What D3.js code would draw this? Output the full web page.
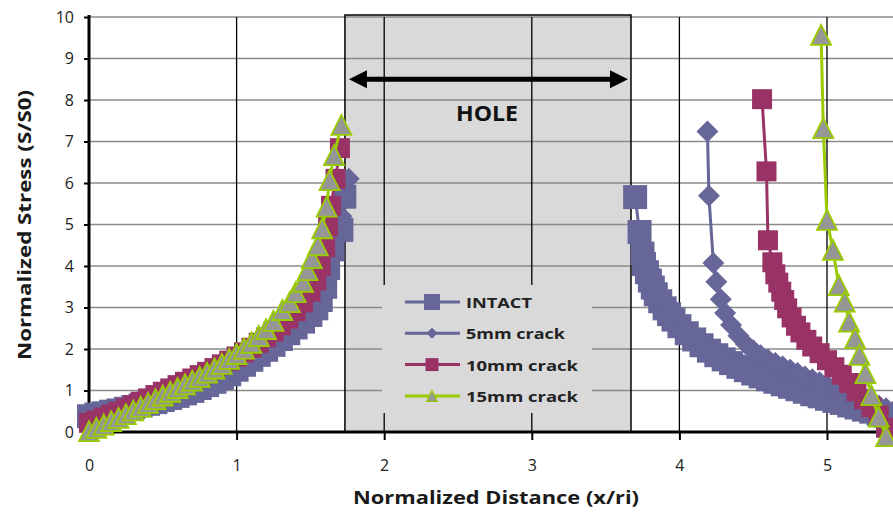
<!DOCTYPE html>
<html>
<head>
<meta charset="utf-8">
<script src="https://cdn.jsdelivr.net/npm/d3@7/dist/d3.min.js"></script>
<style>
  body { margin: 0; background: #fff; }
  svg { display: block; font-family: "Open Sans", "DejaVu Sans", sans-serif; }
</style>
</head>
<body>
<svg id="chart" width="893" height="512"></svg>
<script>
// [x/ri, S/S0], left of the hole and right of the hole
const intactLeft = [[0.00,0.38],[0.05,0.42],[0.10,0.45],[0.15,0.49],[0.20,0.52],[0.25,0.56],[0.30,0.60],[0.35,0.64],[0.40,0.68],[0.45,0.72],[0.50,0.77],[0.55,0.82],[0.60,0.87],[0.65,0.93],[0.70,0.99],[0.75,1.06],[0.80,1.13],[0.85,1.21],[0.90,1.30],[0.95,1.39],[1.00,1.50],[1.05,1.62],[1.10,1.74],[1.15,1.86],[1.20,1.98],[1.25,2.10],[1.30,2.24],[1.35,2.38],[1.40,2.52],[1.45,2.66],[1.50,2.82],[1.54,2.98],[1.57,3.18],[1.60,3.50],[1.62,3.95],[1.65,4.40],[1.71,4.87],[1.73,5.67]];
const intactRight = [[3.70,5.66],[3.73,4.82],[3.75,4.30],[3.76,4.05],[3.78,3.85],[3.80,3.65],[3.82,3.48],[3.84,3.32],[3.87,3.15],[3.90,2.98],[3.93,2.84],[3.96,2.71],[4.00,2.55],[4.05,2.38],[4.10,2.23],[4.15,2.09],[4.20,1.96],[4.25,1.85],[4.30,1.75],[4.35,1.66],[4.40,1.57],[4.45,1.49],[4.50,1.41],[4.55,1.34],[4.60,1.27],[4.65,1.21],[4.70,1.15],[4.75,1.09],[4.80,1.03],[4.85,0.97],[4.90,0.91],[4.95,0.86],[5.00,0.80],[5.05,0.75],[5.10,0.70],[5.15,0.64],[5.20,0.59],[5.25,0.54],[5.30,0.49],[5.35,0.44],[5.40,0.39],[5.45,0.34]];

const crack5Left = [[0.00,0.30],[0.05,0.36],[0.10,0.42],[0.15,0.47],[0.20,0.53],[0.25,0.58],[0.30,0.64],[0.35,0.69],[0.40,0.75],[0.45,0.81],[0.50,0.87],[0.55,0.93],[0.60,0.99],[0.65,1.05],[0.70,1.12],[0.75,1.19],[0.80,1.26],[0.85,1.34],[0.90,1.42],[0.95,1.51],[1.00,1.60],[1.05,1.70],[1.10,1.80],[1.15,1.91],[1.20,2.03],[1.25,2.16],[1.30,2.30],[1.35,2.45],[1.40,2.61],[1.45,2.79],[1.50,3.00],[1.54,3.25],[1.58,3.60],[1.61,3.90],[1.64,4.25],[1.68,4.70],[1.71,5.20],[1.73,5.65],[1.76,6.10]];
const crack5Right = [[4.19,7.24],[4.20,5.69],[4.23,4.07],[4.25,3.62],[4.28,3.20],[4.31,2.87],[4.35,2.58],[4.40,2.32],[4.45,2.12],[4.50,1.97],[4.55,1.85],[4.60,1.75],[4.65,1.66],[4.70,1.58],[4.75,1.50],[4.80,1.42],[4.85,1.34],[4.90,1.27],[4.95,1.20],[5.00,1.13],[5.05,1.06],[5.10,0.99],[5.15,0.92],[5.20,0.85],[5.25,0.78],[5.30,0.71],[5.35,0.64],[5.40,0.57],[5.45,0.50]];

const crack10Left = [[0.00,0.22],[0.05,0.28],[0.10,0.35],[0.15,0.42],[0.20,0.49],[0.25,0.57],[0.30,0.65],[0.35,0.73],[0.40,0.81],[0.45,0.89],[0.50,0.97],[0.55,1.05],[0.60,1.13],[0.65,1.21],[0.70,1.29],[0.75,1.37],[0.80,1.45],[0.85,1.54],[0.90,1.63],[0.95,1.72],[1.00,1.82],[1.05,1.92],[1.10,2.03],[1.15,2.15],[1.20,2.28],[1.25,2.42],[1.30,2.57],[1.35,2.73],[1.40,2.91],[1.45,3.12],[1.50,3.38],[1.54,3.65],[1.57,4.00],[1.60,4.45],[1.62,4.95],[1.64,5.45],[1.67,6.10],[1.70,6.84]];
const crack10Right = [[4.56,8.02],[4.59,6.28],[4.60,4.62],[4.63,4.09],[4.65,3.80],[4.67,3.60],[4.69,3.38],[4.71,3.18],[4.73,2.98],[4.76,2.76],[4.79,2.56],[4.82,2.40],[4.86,2.22],[4.90,2.06],[4.95,1.90],[5.00,1.73],[5.05,1.56],[5.10,1.38],[5.15,1.18],[5.20,0.98],[5.25,0.79],[5.30,0.60],[5.35,0.40],[5.40,0.10]];

const crack15Left = [[0.00,0.02],[0.05,0.10],[0.10,0.18],[0.15,0.26],[0.20,0.34],[0.25,0.43],[0.30,0.52],[0.35,0.61],[0.40,0.70],[0.45,0.79],[0.50,0.88],[0.55,0.97],[0.60,1.06],[0.65,1.15],[0.70,1.24],[0.75,1.33],[0.80,1.43],[0.85,1.53],[0.90,1.64],[0.95,1.76],[1.00,1.88],[1.05,2.01],[1.10,2.15],[1.15,2.31],[1.20,2.48],[1.25,2.68],[1.31,2.94],[1.36,3.13],[1.40,3.37],[1.45,3.62],[1.48,3.90],[1.51,4.19],[1.55,4.50],[1.58,4.91],[1.61,5.43],[1.63,6.07],[1.66,6.67],[1.71,7.40]];
const crack15Right = [[4.96,9.57],[4.975,7.32],[5.00,5.11],[5.04,4.39],[5.08,3.54],[5.12,3.14],[5.15,2.66],[5.19,2.26],[5.22,1.86],[5.26,1.42],[5.30,0.89],[5.35,0.37],[5.40,-0.10]];

const seriesNames = ["INTACT", "5mm crack", "10mm crack", "15mm crack"];
const xTicks = [0, 1, 2, 3, 4, 5];
const yTicks = [0, 1, 2, 3, 4, 5, 6, 7, 8, 9, 10];
const holeEdges = [1.734, 3.672];

const series = [
  { name: seriesNames[0], left: intactLeft, right: intactRight, color: "#666699", marker: "square", size: 24, legSize: 16, fill: "#666699" },
  { name: seriesNames[1], left: crack5Left, right: crack5Right, color: "#666699", marker: "diamond", size: 22, legSize: 11, fill: "#666699" },
  { name: seriesNames[2], left: crack10Left, right: crack10Right, color: "#993366", marker: "square", size: 20, legSize: 13, fill: "#993366" },
  { name: seriesNames[3], left: crack15Left, right: crack15Right, color: "#99cc00", marker: "triangle", size: 20, legSize: 11, fill: "#969696" },
];

const W = 893, H = 512;
const svg = d3.select("#chart");

const x = d3.scaleLinear().domain([0, 5]).range([89, 827]);
const y = d3.scaleLinear().domain([0, 10]).range([432, 17]);

function markerPath(type, s) {
  const h = s / 2;
  if (type === "diamond") return `M0,${-h}L${h},0L0,${h}L${-h},0Z`;
  if (type === "triangle") return `M0,${-h}L${h},${h}L${-h},${h}Z`;
  return `M${-h},${-h}H${h}V${h}H${-h}Z`;
}

// hole background
svg.append("rect")
  .attr("x", x(holeEdges[0]))
  .attr("y", 15)
  .attr("width", x(holeEdges[1]) - x(holeEdges[0]))
  .attr("height", y(0) - 15)
  .attr("fill", "#d9d9d9");

// gridlines
svg.append("g")
  .selectAll("line")
  .data(yTicks.slice(1))
  .join("line")
  .attr("x1", x(0)).attr("x2", W)
  .attr("y1", (d) => y(d)).attr("y2", (d) => y(d))
  .attr("stroke", "#8a8a8a")
  .attr("stroke-width", 1.6);

svg.append("g")
  .selectAll("line")
  .data(xTicks.slice(1))
  .join("line")
  .attr("x1", (d) => x(d)).attr("x2", (d) => x(d))
  .attr("y1", y(10)).attr("y2", y(0))
  .attr("stroke", "#000")
  .attr("stroke-width", 1.3);

// hole border
svg.append("rect")
  .attr("x", x(holeEdges[0]))
  .attr("y", 15)
  .attr("width", x(holeEdges[1]) - x(holeEdges[0]))
  .attr("height", y(0) - 15)
  .attr("fill", "none")
  .attr("stroke", "#000")
  .attr("stroke-width", 1.5);

// axes
const yAxis = svg.append("g")
  .attr("transform", `translate(${x(0)},0)`)
  .call(d3.axisLeft(y).tickValues(yTicks).tickSize(5).tickSizeOuter(0).tickPadding(10));
yAxis.select(".domain").attr("stroke-width", 3).attr("d", `M0,15V${y(0)}`);
yAxis.selectAll(".tick line").attr("stroke-width", 2);
yAxis.selectAll("text").attr("font-size", 16).attr("fill", "#222").attr("font-family", "Open Sans, sans-serif");

const xAxis = svg.append("g")
  .attr("transform", `translate(0,${y(0)})`)
  .call(d3.axisBottom(x).tickValues(xTicks).tickSize(8).tickSizeOuter(0).tickPadding(20).tickFormat(d3.format("d")));
xAxis.select(".domain").attr("stroke-width", 3).attr("d", `M${x(0)},0H${W}`);
xAxis.selectAll(".tick line").attr("stroke-width", 2);
xAxis.selectAll("text").attr("font-size", 16).attr("fill", "#222").attr("font-family", "Open Sans, sans-serif");

// series
const line = d3.line()
  .defined((d) => d !== null)
  .x((d) => x(d[0]))
  .y((d) => y(d[1]));

series.forEach((s) => {
  const pts = s.left.concat([null], s.right);
  const g = svg.append("g");
  g.append("path")
    .datum(pts)
    .attr("d", line)
    .attr("fill", "none")
    .attr("stroke", s.color)
    .attr("stroke-width", 3);
  g.selectAll("path.mk")
    .data(s.left.concat(s.right))
    .join("path")
    .attr("class", "mk")
    .attr("transform", (d) => `translate(${x(d[0])},${y(d[1])})`)
    .attr("d", markerPath(s.marker, s.size))
    .attr("fill", s.fill)
    .attr("stroke", s.marker === "triangle" ? s.color : "none")
    .attr("stroke-width", 1.8);
});

// hole arrow and label
const ay = y(8.5);
const ax0 = x(holeEdges[0]) + 4, ax1 = x(holeEdges[1]) - 3;
svg.append("line")
  .attr("x1", ax0 + 14).attr("x2", ax1 - 14)
  .attr("y1", ay).attr("y2", ay)
  .attr("stroke", "#000").attr("stroke-width", 5);
svg.append("path")
  .attr("d", `M${ax0},${ay}L${ax0 + 18},${ay - 9}L${ax0 + 18},${ay + 9}Z M${ax1},${ay}L${ax1 - 18},${ay - 9}L${ax1 - 18},${ay + 9}Z`)
  .attr("fill", "#000");
svg.append("text")
  .attr("x", 487).attr("y", 112)
  .attr("text-anchor", "middle")
  .attr("dominant-baseline", "central")
  .attr("font-size", 22)
  .attr("font-weight", "bold")
  .attr("textLength", 62)
  .attr("lengthAdjust", "spacingAndGlyphs")
  .attr("fill", "#111")
  .text("HOLE");

// axis titles
svg.append("text")
  .attr("transform", `translate(24,225) rotate(-90)`)
  .attr("text-anchor", "middle")
  .attr("dominant-baseline", "central")
  .attr("font-size", 17)
  .attr("font-weight", "bold")
  .attr("textLength", 270)
  .attr("lengthAdjust", "spacingAndGlyphs")
  .attr("fill", "#1a1a1a")
  .text("Normalized Stress (S/S0)");

svg.append("text")
  .attr("x", 496).attr("y", 497)
  .attr("text-anchor", "middle")
  .attr("dominant-baseline", "central")
  .attr("font-size", 17)
  .attr("font-weight", "bold")
  .attr("textLength", 286)
  .attr("lengthAdjust", "spacingAndGlyphs")
  .attr("fill", "#1a1a1a")
  .text("Normalized Distance (x/ri)");

// legend
const legendWidths = [66, 99, 112, 112];
const legend = svg.append("g");
legend.append("rect")
  .attr("x", 382).attr("y", 285)
  .attr("width", 210).attr("height", 128)
  .attr("fill", "#d9d9d9");
const item = legend.selectAll("g.item")
  .data(series)
  .join("g")
  .attr("class", "item")
  .attr("transform", (d, i) => `translate(0,${302 + i * 31.3})`);
item.append("line")
  .attr("x1", 405).attr("x2", 460)
  .attr("stroke", (d) => d.color)
  .attr("stroke-width", 3);
item.append("path")
  .attr("transform", "translate(432,0)")
  .attr("d", (d) => markerPath(d.marker, d.legSize))
  .attr("fill", (d) => d.fill)
  .attr("stroke", (d) => (d.marker === "triangle" ? d.color : "none"))
  .attr("stroke-width", 1.2);
item.append("text")
  .attr("x", 466)
  .attr("dominant-baseline", "central")
  .attr("font-size", 15)
  .attr("font-weight", "bold")
  .attr("fill", "#222")
  .attr("textLength", (d, i) => legendWidths[i])
  .attr("lengthAdjust", "spacingAndGlyphs")
  .text((d) => d.name);
</script>
</body>
</html>
